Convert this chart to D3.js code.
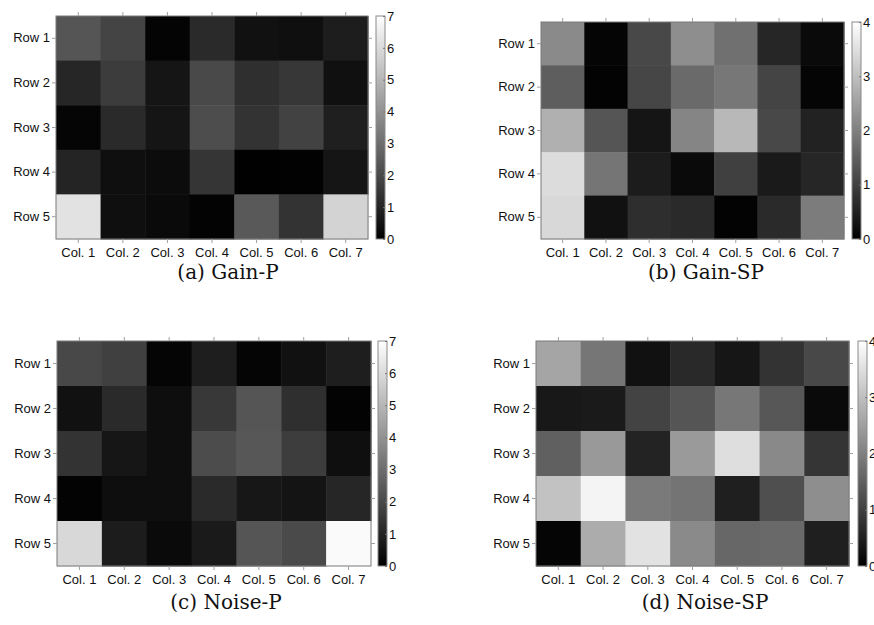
<!DOCTYPE html>
<html>
<head>
<meta charset="utf-8">
<script src="https://cdn.jsdelivr.net/npm/d3@7"></script>
<style>
  body { margin: 0; background: #fff; }
  svg { display: block; }
</style>
</head>
<body>
<div id="chart"></div>
<script>

var rowLabels = ["Row 1", "Row 2", "Row 3", "Row 4", "Row 5"];
var colLabels = ["Col. 1", "Col. 2", "Col. 3", "Col. 4", "Col. 5", "Col. 6", "Col. 7"];

var gainP = [
    [2.33, 1.87, 0.10, 1.15, 0.47, 0.40, 0.80],
    [1.05, 1.65, 0.58, 2.00, 1.30, 1.50, 0.44],
    [0.15, 1.15, 0.58, 2.10, 1.40, 1.80, 0.85],
    [1.00, 0.40, 0.33, 1.45, 0.02, 0.05, 0.58],
    [6.20, 0.40, 0.28, 0.08, 2.45, 1.40, 5.80]
];
var gainSP = [
    [2.16, 0.08, 1.13, 2.23, 1.76, 0.60, 0.16],
    [1.47, 0.05, 1.10, 1.66, 1.87, 1.07, 0.08],
    [2.76, 1.33, 0.33, 2.09, 2.89, 1.13, 0.53],
    [3.45, 1.84, 0.44, 0.16, 1.00, 0.41, 0.60],
    [3.39, 0.27, 0.72, 0.66, 0.05, 0.66, 1.95]
];
var noiseP = [
    [1.98, 1.76, 0.14, 0.82, 0.14, 0.47, 0.82],
    [0.47, 1.15, 0.38, 1.54, 2.33, 1.29, 0.08],
    [1.40, 0.60, 0.38, 2.09, 2.39, 1.67, 0.41],
    [0.08, 0.38, 0.38, 1.15, 0.63, 0.55, 1.04],
    [5.93, 0.77, 0.27, 0.71, 2.33, 2.03, 6.86]
];
var noiseSP = [
    [2.59, 1.85, 0.27, 0.64, 0.35, 0.80, 1.13],
    [0.38, 0.41, 1.05, 1.33, 1.87, 1.36, 0.16],
    [1.50, 2.40, 0.55, 2.42, 3.48, 2.15, 0.83],
    [3.04, 3.83, 1.91, 1.82, 0.49, 1.24, 2.23],
    [0.08, 2.70, 3.55, 2.16, 1.62, 1.64, 0.49]
];

var ticksP = [0, 1, 2, 3, 4, 5, 6, 7];
var ticksSP = [0, 1, 2, 3, 4];

var panels = [
    {data: gainP,   max: 7, ticks: ticksP,  caption: "(a) Gain-P",   x0: 56,  x1: 368, y0: 16,  y1: 239, cb: 376, cap: [228, 279]},
    {data: gainSP,  max: 4, ticks: ticksSP, caption: "(b) Gain-SP",  x0: 541, x1: 844, y0: 22,  y1: 239, cb: 852, cap: [706, 279]},
    {data: noiseP,  max: 7, ticks: ticksP,  caption: "(c) Noise-P",  x0: 57,  x1: 371, y0: 341, y1: 566, cb: 378, cap: [226, 609]},
    {data: noiseSP, max: 4, ticks: ticksSP, caption: "(d) Noise-SP", x0: 536, x1: 849, y0: 341, y1: 566, cb: 858, cap: [705, 609]}
];

var svg = d3.select("#chart").append("svg")
    .attr("width", 874)
    .attr("height", 625);

var defs = svg.append("defs");
var grad = defs.append("linearGradient")
    .attr("id", "grey")
    .attr("x1", 0).attr("y1", 1)
    .attr("x2", 0).attr("y2", 0);
grad.append("stop").attr("offset", "0%").attr("stop-color", "#000");
grad.append("stop").attr("offset", "100%").attr("stop-color", "#fff");

var tickColor = "#a0a0a0";
var font = "'Liberation Sans', Arial, sans-serif";

panels.forEach(function(p) {
    var g = svg.append("g");

    var x = d3.scaleBand().domain(colLabels).range([p.x0, p.x1]);
    var y = d3.scaleBand().domain(rowLabels).range([p.y0, p.y1]);
    var color = d3.scaleLinear().domain([0, p.max]).range(["#000", "#fff"]).clamp(true);

    var cells = [];
    p.data.forEach(function(row, i) {
        row.forEach(function(v, j) {
            cells.push({r: rowLabels[i], c: colLabels[j], v: v});
        });
    });

    g.selectAll("rect.cell")
        .data(cells)
        .enter().append("rect")
        .attr("class", "cell")
        .attr("x", function(d) { return x(d.c); })
        .attr("y", function(d) { return y(d.r); })
        .attr("width", x.bandwidth() + 0.5)
        .attr("height", y.bandwidth() + 0.5)
        .attr("fill", function(d) { return color(d.v); });

    // frame
    g.append("rect")
        .attr("x", p.x0).attr("y", p.y0)
        .attr("width", p.x1 - p.x0).attr("height", p.y1 - p.y0)
        .attr("fill", "none")
        .attr("stroke", "#7a7a7a")
        .attr("stroke-width", 1);

    // axes
    var left = g.append("g").attr("transform", "translate(" + p.x0 + ",0)")
        .call(d3.axisLeft(y).tickSize(4).tickPadding(2));
    var right = g.append("g").attr("transform", "translate(" + p.x1 + ",0)")
        .call(d3.axisRight(y).tickSize(4).tickFormat(""));
    var bottom = g.append("g").attr("transform", "translate(0," + p.y1 + ")")
        .call(d3.axisBottom(x).tickSize(4).tickPadding(5));
    var top = g.append("g").attr("transform", "translate(0," + p.y0 + ")")
        .call(d3.axisTop(x).tickSize(4).tickFormat(""));

    [left, right, bottom, top].forEach(function(a) {
        a.select(".domain").remove();
        a.selectAll(".tick line").attr("stroke", tickColor);
        a.selectAll(".tick text")
            .attr("fill", "#111")
            .style("font-family", font)
            .style("font-size", "13px");
    });

    // colour bar
    var cbw = 9;
    var cy = d3.scaleLinear().domain([0, p.max]).range([p.y1, p.y0]);
    g.append("rect")
        .attr("x", p.cb).attr("y", p.y0)
        .attr("width", cbw).attr("height", p.y1 - p.y0)
        .attr("fill", "url(#grey)")
        .attr("stroke", "#8a8a8a")
        .attr("stroke-width", 1);

    var cbAxis = g.append("g").attr("transform", "translate(" + (p.cb + cbw) + ",0)")
        .call(d3.axisRight(cy).tickValues(p.ticks).tickSize(-2).tickPadding(2).tickFormat(d3.format("d")));
    cbAxis.select(".domain").remove();
    cbAxis.selectAll(".tick line").attr("stroke", "#777");
    cbAxis.selectAll(".tick text")
        .attr("fill", "#111")
        .style("font-family", font)
        .style("font-size", "13px");

    g.append("text")
        .attr("x", p.cap[0]).attr("y", p.cap[1])
        .attr("text-anchor", "middle")
        .style("font-family", "'DejaVu Serif', 'Liberation Serif', serif")
        .style("font-size", "20px")
        .attr("fill", "#111")
        .text(p.caption);
});

</script>
</body>
</html>
